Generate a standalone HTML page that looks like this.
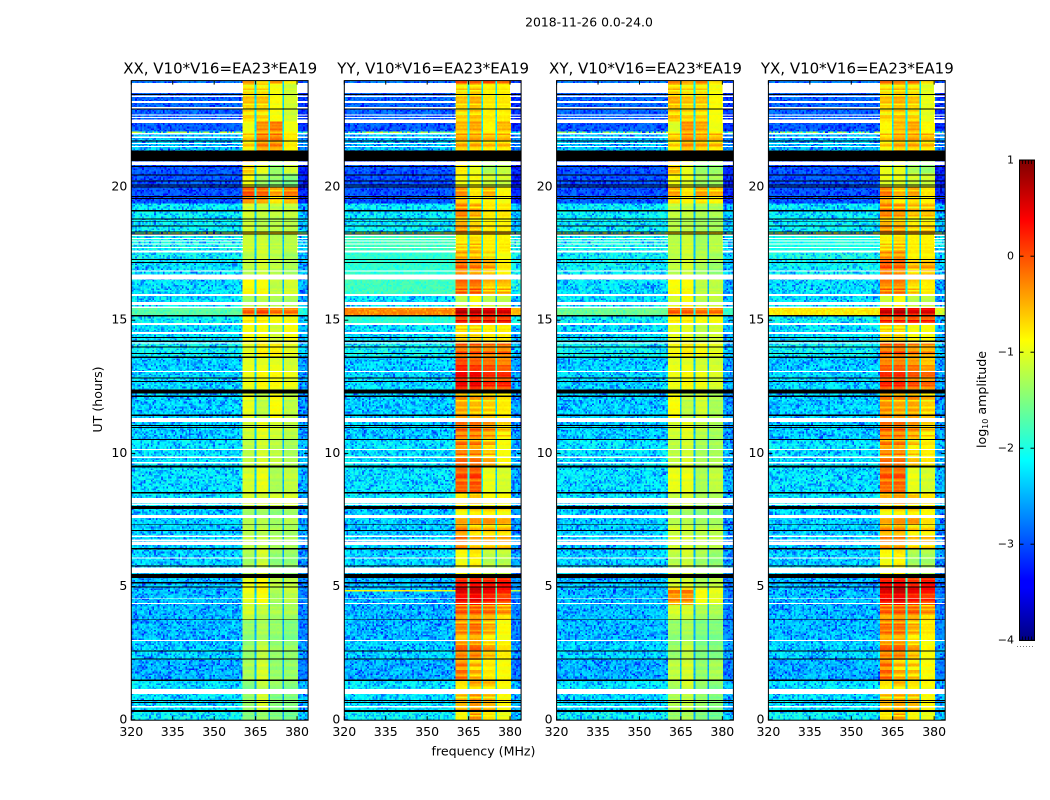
<!DOCTYPE html>
<html>
<head>
<meta charset="utf-8">
<title>2018-11-26 0.0-24.0</title>
<style>
html,body{margin:0;padding:0;background:#fff;}
#figure{position:relative;width:1050px;height:800px;overflow:hidden;background:#fff;}
.plot-wrap{position:absolute;overflow:hidden;}
.plot-wrap canvas{position:absolute;display:block;image-rendering:pixelated;}
#overlay{position:absolute;left:0;top:0;}
text{font-family:"DejaVu Sans","Liberation Sans",sans-serif;fill:#000;}
</style>
</head>
<body>
<div id="figure">
<svg id="overlay" width="1050" height="800" viewBox="0 0 1050 800" xmlns="http://www.w3.org/2000/svg">
  <defs>
    <linearGradient id="jetGrad" x1="0" y1="1" x2="0" y2="0">
      <stop offset="0" stop-color="#00007f"/>
      <stop offset="0.11" stop-color="#0000ff"/>
      <stop offset="0.125" stop-color="#0000ff"/>
      <stop offset="0.375" stop-color="#00ffff"/>
      <stop offset="0.625" stop-color="#ffff00"/>
      <stop offset="0.875" stop-color="#ff0000"/>
      <stop offset="1" stop-color="#7f0000"/>
    </linearGradient>
  </defs>
  <text x="589" y="26.5" text-anchor="middle" font-size="12.4">2018-11-26 0.0-24.0</text>
  <text x="483.5" y="755.5" text-anchor="middle" font-size="12.6">frequency (MHz)</text>
  <text transform="translate(102,399.5) rotate(-90)" text-anchor="middle" font-size="12.6">UT (hours)</text>
  <text transform="translate(986,399.5) rotate(-90)" text-anchor="middle" font-size="12.6">log<tspan font-size="8" dy="2">10</tspan><tspan dy="-2"> amplitude</tspan></text>
  <rect x="1019.5" y="160" width="15" height="480.5" fill="url(#jetGrad)"/>
  <rect x="1019.5" y="160" width="15" height="480.5" fill="none" stroke="#000" stroke-width="1"/>
  <line x1="1017" x2="1035" y1="646.5" y2="646.5" stroke="#777" stroke-width="1" stroke-dasharray="1 2"/>
</svg>
</div>
<script>
// ---------- Data ----------
const panelTitles = ["XX, V10*V16=EA23*EA19", "YY, V10*V16=EA23*EA19", "XY, V10*V16=EA23*EA19", "YX, V10*V16=EA23*EA19"];
const freqTicks = [320, 335, 350, 365, 380];
const hourTicks = [0, 5, 10, 15, 20];
const colorTicks = [1, 0, -1, -2, -3, -4];
const subBandEdges = [[360.4, 364.8], [365.4, 369.8], [370.4, 374.8], [375.4, 380]];
const subBandGaps = [365, 370, 375];

// upper time limit (hours) of every segment
const segmentUpper = [0.30,1.05,1.50,2.30,3.00,3.76,4.30,4.83,4.88,4.97,5.40,6.42,7.33,7.95,8.52,9.50,10.52,11.25,12.30,13.07,13.60,14.15,14.85,15.17,15.48,15.95,16.60,17.20,17.58,18.27,18.33,19.40,19.97,20.47,20.97,22.03,22.08,22.45,23.90,24.00];
// segments whose background carries strong hot pixels
const speckledSegments = [30, 36];

// log10 amplitude per segment: [background, band1, band2, band3, band4]
const levelsXX = [
[-2.2,-1.5,-1.4,-1.5,-1.6],[-2.3,-1.4,-1.1,-1.5,-1.5],[-2.3,-1.5,-1.2,-1.4,-1.5],[-2.55,-1.3,-1.1,-1.4,-1.4],[-2.4,-1.4,-1.2,-1.4,-1.4],
[-2.5,-1.4,-1.3,-1.4,-1.5],[-2.5,-1.1,-1.2,-1.3,-1.3],[-2.5,-1.0,-0.9,-1.3,-1.2],[-2.5,-1.0,-0.9,-1.3,-1.2],[-2.5,-1.0,-0.9,-1.3,-1.2],
[-2.5,-1.0,-0.9,-1.2,-1.2],[-2.4,-1.3,-1.1,-1.4,-1.4],[-2.4,-1.2,-1.2,-1.3,-1.3],[-2.4,-1.3,-1.3,-1.4,-1.3],[-2.3,-1.1,-1.1,-1.1,-1.1],
[-2.3,-1.1,-1.0,-1.3,-1.2],[-2.3,-1.2,-1.1,-1.2,-1.3],[-2.4,-1.1,-1.0,-1.1,-1.2],[-2.4,-1.0,-1.2,-0.9,-1.2],[-2.35,-1.0,-0.9,-0.9,-1.0],
[-2.4,-1.0,-1.0,-1.0,-1.1],[-2.2,-1.0,-0.8,-0.8,-1.0],[-2.3,-0.9,-0.9,-1.1,-0.9],[-2.2,-0.8,-0.8,-0.9,-0.9],[-1.7,-0.2,-0.1,-0.3,-0.3],
[-2.3,-1.3,-1.2,-1.3,-1.3],[-2.3,-0.9,-0.9,-1.2,-1.1],[-2.3,-1.2,-1.1,-1.2,-1.3],[-2.2,-1.2,-1.1,-1.2,-1.3],[-2.15,-1.1,-1.1,-1.2,-1.2],
[-1.7,-0.5,-0.5,-0.5,-0.5],[-2.25,-1.1,-1.2,-1.2,-1.2],[-3.0,-0.2,-0.3,-0.6,-0.4],[-3.0,-0.9,-1.3,-1.4,-1.5],[-3.0,-0.7,-1.0,-1.4,-1.1],
[-2.5,-0.7,-0.3,-0.3,-0.8],[-1.7,-0.7,-0.4,-0.4,-0.8],[-2.95,-1.0,-0.5,-0.4,-1.0],[-2.9,-0.7,-0.7,-0.9,-1.1],[-2.8,-0.6,-0.8,-0.6,-0.9]
];
const levelsYY = [
[-2.2,-0.9,-0.5,-0.8,-1.0],[-2.3,-0.7,-0.5,-0.7,-0.9],[-2.3,-0.8,-0.6,-0.7,-0.9],[-2.55,-0.3,-0.6,-0.8,-0.9],[-2.4,-0.3,-0.3,-0.6,-0.8],
[-2.5,-0.4,-0.3,-0.6,-0.9],[-2.5,-0.2,-0.2,-0.3,-0.5],[-2.5,0.4,0.45,0.3,0.1],[-0.9,0.4,0.45,0.3,0.1],[-2.5,0.4,0.45,0.3,0.1],
[-2.5,0.15,0.2,0.15,0.2],[-2.4,-0.9,-0.8,-1.2,-1.2],[-2.4,-0.3,-0.6,-0.6,-0.6],[-2.4,-0.7,-0.6,-0.6,-0.7],[-2.3,-0.8,-0.7,-0.9,-0.9],
[-2.3,-0.15,-0.1,-1.0,-1.1],[-2.3,-0.25,-0.3,-0.6,-0.9],[-2.4,-0.2,-0.2,-0.4,-0.7],[-2.4,-0.5,-0.6,-0.7,-0.8],[-2.35,0.25,0.25,0.0,0.0],
[-2.4,0.1,0.0,-0.1,-0.2],[-2.2,-0.1,-0.1,-0.2,-0.2],[-2.3,-0.7,-0.7,-0.8,-0.8],[-1.9,0.25,0.35,0.35,0.3],[-0.3,0.6,0.6,0.5,0.45],
[-2.3,-1.2,-0.9,-1.2,-1.2],[-1.8,-0.2,-0.2,-0.6,-0.6],[-1.9,-0.2,-0.3,-0.5,-0.8],[-1.9,-0.4,-0.5,-0.7,-0.9],[-1.8,-0.7,-0.6,-0.8,-0.8],
[-1.6,-0.2,-0.2,-0.3,-0.3],[-2.25,-0.4,-0.6,-0.8,-0.8],[-3.0,-0.5,-0.8,-0.7,-0.9],[-3.0,-0.9,-0.9,-1.1,-1.1],[-3.0,-0.8,-1.0,-1.3,-1.2],
[-2.5,-0.5,-0.5,-0.6,-0.6],[-1.7,-0.5,-0.5,-0.6,-0.6],[-2.95,-0.7,-0.6,-0.9,-0.7],[-2.9,-0.7,-0.6,-0.8,-0.8],[-2.8,-0.2,-0.3,-0.2,-0.4]
];
const levelsXY = [
[-2.2,-1.4,-1.3,-1.5,-1.6],[-2.3,-1.3,-1.2,-1.4,-1.5],[-2.3,-1.3,-1.1,-1.4,-1.5],[-2.55,-1.2,-1.1,-1.4,-1.3],[-2.4,-1.4,-1.2,-1.5,-1.5],
[-2.5,-1.4,-1.3,-1.5,-1.5],[-2.5,-1.1,-1.1,-1.3,-1.3],[-2.5,-0.3,-0.3,-0.9,-1.0],[-2.5,-0.3,-0.3,-0.9,-1.0],[-2.5,-0.8,-0.8,-1.1,-1.1],
[-2.5,-1.1,-1.1,-1.3,-1.2],[-2.4,-1.2,-1.1,-1.3,-1.4],[-2.4,-1.1,-1.1,-1.2,-1.2],[-2.4,-1.3,-1.3,-1.4,-1.4],[-2.3,-1.2,-1.1,-1.3,-1.3],
[-2.3,-1.0,-1.0,-1.3,-1.2],[-2.3,-1.2,-1.1,-1.3,-1.3],[-2.4,-1.1,-1.0,-1.2,-1.3],[-2.4,-0.9,-1.2,-1.1,-1.3],[-2.35,-1.0,-0.9,-1.0,-1.1],
[-2.4,-1.0,-1.0,-1.1,-1.1],[-2.2,-0.9,-0.8,-0.9,-1.0],[-2.3,-1.0,-1.0,-1.2,-1.1],[-2.2,-0.8,-0.8,-0.9,-0.9],[-1.6,-0.2,-0.2,-0.3,-0.3],
[-2.3,-1.1,-0.9,-1.2,-1.2],[-2.3,-0.9,-0.9,-1.2,-1.2],[-2.2,-1.2,-1.1,-1.3,-1.4],[-2.2,-1.2,-1.1,-1.2,-1.3],[-2.15,-1.2,-1.1,-1.3,-1.2],
[-1.7,-0.5,-0.5,-0.5,-0.5],[-2.25,-1.2,-1.2,-1.3,-1.3],[-3.0,-0.6,-0.8,-0.6,-0.7],[-3.0,-0.9,-1.0,-1.3,-1.3],[-3.0,-0.6,-1.0,-1.4,-1.4],
[-2.5,-0.7,-0.4,-0.5,-0.6],[-1.7,-0.7,-0.4,-0.5,-0.6],[-2.95,-1.1,-0.5,-0.6,-1.0],[-2.9,-0.6,-0.7,-0.7,-0.9],[-2.8,-0.5,-0.7,-0.5,-0.8]
];
const levelsYX = [
[-2.2,-0.8,-0.6,-0.9,-1.0],[-2.3,-0.7,-0.6,-0.7,-0.9],[-2.3,-0.8,-0.7,-0.8,-0.9],[-2.55,-0.25,-0.6,-0.7,-0.9],[-2.4,-0.3,-0.3,-0.6,-0.9],
[-2.5,-0.3,-0.3,-0.6,-0.8],[-2.5,-0.25,-0.2,-0.25,-0.5],[-2.5,0.4,0.5,0.3,0.15],[-2.5,0.4,0.5,0.3,0.15],[-2.5,0.4,0.5,0.3,0.15],
[-2.5,0.2,0.25,0.1,0.2],[-2.4,-0.9,-0.8,-1.3,-1.3],[-2.4,-0.4,-0.4,-0.7,-0.7],[-2.4,-0.7,-0.6,-0.6,-0.8],[-2.3,-0.6,-0.5,-0.7,-0.8],
[-2.3,-0.2,-0.2,-1.0,-1.1],[-2.3,-0.3,-0.3,-0.7,-0.8],[-2.4,-0.2,-0.2,-0.4,-0.7],[-2.4,-0.4,-0.5,-0.5,-0.7],[-2.35,0.0,0.0,-0.2,-0.3],
[-2.4,-0.2,-0.2,-0.3,-0.5],[-2.2,-0.15,-0.1,-0.3,-0.4],[-2.3,-0.7,-0.7,-0.9,-0.9],[-2.2,0.15,0.15,0.2,0.15],[-0.8,0.5,0.6,0.4,0.4],
[-2.3,-1.1,-0.9,-1.2,-1.2],[-2.3,-0.3,-0.3,-0.7,-0.8],[-2.2,-0.1,-0.2,-0.6,-0.5],[-2.1,-0.3,-0.3,-0.8,-0.8],[-2.0,-0.7,-0.6,-0.8,-0.8],
[-1.6,-0.2,-0.2,-0.3,-0.3],[-2.25,-0.4,-0.5,-0.7,-0.7],[-3.0,-0.4,-0.7,-0.6,-0.8],[-3.0,-1.0,-1.0,-1.1,-1.1],[-3.0,-1.0,-1.0,-1.3,-1.4],
[-2.5,-0.7,-0.5,-0.5,-0.6],[-1.7,-0.7,-0.5,-0.5,-0.6],[-2.95,-0.9,-0.7,-0.6,-0.9],[-2.9,-0.7,-0.6,-0.7,-1.0],[-2.8,-0.4,-0.5,-0.4,-0.8]
];
const panelLevels = [levelsXX, levelsYY, levelsXY, levelsYX];

// flagged time ranges, [from hour, to hour]
const whiteRowsOutOfBand = [[23.53,23.91],[23.38,23.43],[23.16,23.22],[22.95,23.01],[22.68,22.72],[22.60,22.63],[22.41,22.53],[21.98,22.03],[21.83,21.89],[21.62,21.66],[21.50,21.54],[18.17,18.21],[18.05,18.09],[17.96,17.99],[17.84,17.87],[17.71,17.75],[17.55,17.61]];
const whiteRows = [[20.82,20.95],[16.82,16.87],[16.52,16.71],[15.91,15.98],[15.57,15.69],[15.46,15.51],[14.82,14.89],[14.48,14.56],[14.12,14.17],[13.05,13.09],[11.18,11.33],[10.12,10.16],[9.82,9.88],[9.62,9.67],[8.13,8.32],[8.06,8.11],[7.57,7.68],[6.87,6.91],[6.72,6.76],[6.57,6.69],[6.05,6.09],[5.51,5.71],[4.53,4.56],[4.34,4.38],[2.95,2.99],[0.96,1.15],[0.46,0.51]];
const blackRows = [[23.46,23.50],[22.90,22.94],[21.71,21.75],[20.97,21.37],[20.76,20.79],[20.43,20.47],[20.20,20.24],[20.05,20.09],[19.99,20.02],[19.63,19.67],[19.55,19.59],[19.08,19.13],[18.78,18.82],[18.70,18.73],[18.51,18.55],[18.31,18.33],[18.22,18.26],[17.26,17.30],[17.14,17.19],[15.14,15.20],[14.33,14.37],[14.19,14.24],[13.97,14.01],[13.73,13.77],[13.59,13.63],[12.82,12.85],[12.68,12.72],[12.25,12.40],[12.12,12.17],[11.41,11.46],[11.03,11.06],[10.96,11.00],[10.50,10.54],[9.47,9.54],[8.50,8.56],[7.91,8.02],[7.31,7.34],[7.08,7.12],[6.40,6.44],[5.75,5.79],[5.32,5.47],[5.11,5.17],[4.96,5.00],[3.76,3.79],[2.57,2.61],[2.27,2.31],[1.45,1.52],[0.71,0.74],[0.63,0.67],[0.29,0.36]];

// hand-typed texture tables (log10 offsets)
const speckle = [-0.9,0.2,-0.3,0.5,-1.1,0.1,0.4,-0.5,0.3,-0.1,0.6,-0.7,0.2,0.4,-1.3,0.3,-0.2,0.5,0.1,-0.6,0.4,-0.4,0.2,0.6,-0.8,0.0,0.3,-0.2,0.5,-1.0,0.2,0.4,-0.3,0.1,0.6,-0.5,0.3,-0.9,0.4,0.0,0.5,-0.2,0.2,-1.2,0.3,0.6,-0.4,0.1,0.4,-0.7,0.2,0.5,-0.1,0.3,-0.6,0.6,0.0,-1.0,0.4,0.2,-0.3,0.5,0.1,-0.8,0.3,0.6,-0.2,0.4,-0.5,0.0,0.5,-1.1,0.2,0.3,-0.4,0.6,0.1,-0.7,0.4,-0.1,0.2,0.5,-0.9,0.3,0.0,0.6,-0.3,0.4,-0.6,0.1,0.5,-1.4,0.2,0.3,-0.2,0.4,-0.5];
const rowRipple = [0.5,-0.4,0.9,-0.7,0.2,0.8,-0.9,0.3,-0.2,0.7,-0.6,0.4,1.0,-0.8,0.1,-0.3,0.6,-1.0,0.5,0.2,-0.5,0.8,-0.1,-0.7,0.4,0.9,-0.4,0.0,-0.9,0.6,0.3];

// ---------- Scales ----------
const frameLeft = [131.3, 344.3, 556.6, 768.4];
const frameTop = 80.6;
const frameBottom = 720.2;
const frameWidth = 176.8;
const freqMin = 320, freqMax = 384;
const cellMHz = 0.625, cellHours = 0.0625;
function xScale(p, f) { return frameLeft[p] + (f - freqMin) * frameWidth / (freqMax - freqMin); }
function yScale(h) { return 719.8 - 26.64 * h; }
function cbScale(v) { return 640.2 - (v + 4) * 96; }

function jetColor(v) {
  const t = Math.min(1, Math.max(0, (v + 4) / 5));
  const c = x => Math.round(255 * Math.min(1, Math.max(0, x)));
  return "rgb(" + c(Math.min(4 * t - 1.5, -4 * t + 4.5)) + "," + c(Math.min(4 * t - 0.5, -4 * t + 3.5)) + "," + c(Math.min(4 * t + 0.5, -4 * t + 2.5)) + ")";
}

function segmentIndex(h) {
  for (let i = 0; i < segmentUpper.length; i++) if (h < segmentUpper[i]) return i;
  return segmentUpper.length - 1;
}

function textureIndex(p, row, col) {
  const mixed = ((col + 1) * 7919 ^ (row + 1) * 104729 ^ (p + 1) * 15485863) >>> 0;
  return (mixed ^ (mixed >>> 7)) % speckle.length;
}

function cellLevel(p, row, col) {
  const h = (row + 0.5) * cellHours;
  const f = freqMin + col * cellMHz;
  const seg = segmentIndex(h);
  const lv = panelLevels[p][seg];
  const n = speckle[textureIndex(p, row, col)];
  const rip = rowRipple[(row * row + row + seg) % rowRipple.length];
  for (let g = 0; g < subBandGaps.length; g++) {
    if (Math.abs(f - subBandGaps[g]) < 0.3) {
      const avg = (lv[g + 1] + lv[g + 2]) / 2;
      return 0.45 * avg - 1.9 + n * 0.1;
    }
  }
  for (let b = 0; b < subBandEdges.length; b++) {
    if (f >= subBandEdges[b][0] && f <= subBandEdges[b][1]) {
      const base = lv[b + 1];
      const amp = base > -0.8 ? 0.3 : 0.08;
      return base + rip * amp + n * 0.05;
    }
  }
  const bg = f > 380 ? lv[0] - 0.25 : lv[0];
  let noiseAmp = bg < -2.7 ? 0.4 : (bg < -2.0 ? 0.55 : 0.2);
  if (speckledSegments.indexOf(seg) >= 0) noiseAmp = 1.1;
  return bg + n * noiseAmp;
}

// ---------- Rendering ----------
const figure = document.getElementById("figure");
const svg = document.getElementById("overlay");
const NS = "http://www.w3.org/2000/svg";
function mk(tag, attrs) {
  const e = document.createElementNS(NS, tag);
  for (const k in attrs) e.setAttribute(k, attrs[k]);
  svg.appendChild(e);
  return e;
}

const nCols = Math.ceil((freqMax - freqMin) / cellMHz) + 1;
const nRows = Math.ceil(24 / cellHours);
const pxPerCol = frameWidth / (freqMax - freqMin) * cellMHz;

panelTitles.forEach(function (title, p) {
  const wrap = document.createElement("div");
  wrap.className = "plot-wrap";
  
  
  wrap.style.left = frameLeft[p] + "px";
  wrap.style.top = frameTop + "px";
  wrap.style.width = frameWidth + "px";
  wrap.style.height = (frameBottom - frameTop) + "px";
  const cv = document.createElement("canvas");
  
  
  cv.width = nCols;
  cv.height = nRows;
  cv.style.left = (-pxPerCol / 2) + "px";
  cv.style.width = (nCols * pxPerCol) + "px";
  const totalH = yScale(0) - yScale(24);
  cv.style.top = (yScale(24) - frameTop) + "px";
  cv.style.height = totalH + "px";
  const ctx = cv.getContext("2d");
  for (let r = 0; r < nRows; r++) {
    for (let c = 0; c < nCols; c++) {
      ctx.fillStyle = jetColor(cellLevel(p, r, c));
      ctx.fillRect(c, nRows - 1 - r, 1, 1);
    }
  }
  wrap.appendChild(cv);
  figure.insertBefore(wrap, svg);

  const x0 = frameLeft[p], x1 = x0 + frameWidth;
  const bandX0 = xScale(p, subBandEdges[0][0]);
  const bandX1 = xScale(p, subBandEdges[3][1]);

  whiteRowsOutOfBand.forEach(function (rng) {
    const y = yScale(rng[1]);
    const hgt = Math.max(0.9, yScale(rng[0]) - y);
    const a = mk("rect", { x: x0, width: bandX0 - x0, y: y, height: hgt, fill: "#fff", "shape-rendering": "crispEdges" });
    
    
    const b = mk("rect", { x: bandX1, width: x1 - bandX1, y: y, height: hgt, fill: "#fff", "shape-rendering": "crispEdges" });
    
    
  });
  whiteRows.forEach(function (rng) {
    const e = mk("rect", { x: x0, width: frameWidth, y: yScale(rng[1]), height: Math.max(0.9, yScale(rng[0]) - yScale(rng[1])), fill: "#fff", "shape-rendering": "crispEdges" });
    
    
  });
  blackRows.forEach(function (rng) {
    const e = mk("rect", { x: x0, width: frameWidth, y: yScale(rng[1]), height: Math.max(0.9, yScale(rng[0]) - yScale(rng[1])), fill: "#000", "shape-rendering": "crispEdges" });
    
    
  });

  const frame = mk("rect", { x: x0, y: frameTop, width: frameWidth, height: frameBottom - frameTop, fill: "none", stroke: "#000", "stroke-width": 1 });
  
  

  const ttl = mk("text", { x: x0 + frameWidth / 2 + 0.5, y: 73.5, "text-anchor": "middle", "font-size": 15 });
  ttl.textContent = title;
  
  

  freqTicks.forEach(function (f) {
    const x = xScale(p, f);
    const a = mk("line", { x1: x, x2: x, y1: frameBottom, y2: frameBottom - 4, stroke: "#000", "stroke-width": 1 });
    
    
    const b = mk("line", { x1: x, x2: x, y1: frameTop, y2: frameTop + 4, stroke: "#000", "stroke-width": 1 });
    
    
    const t = mk("text", { x: x, y: 736, "text-anchor": "middle", "font-size": 12.5 });
    t.textContent = String(f);
    
    
  });
  hourTicks.forEach(function (h) {
    const y = yScale(h);
    const a = mk("line", { x1: x0, x2: x0 + 4, y1: y, y2: y, stroke: "#000", "stroke-width": 1 });
    
    
    const b = mk("line", { x1: x1, x2: x1 - 4, y1: y, y2: y, stroke: "#000", "stroke-width": 1 });
    
    
    const t = mk("text", { x: x0 - 4, y: y + 3.5, "text-anchor": "end", "font-size": 12.5 });
    t.textContent = String(h);
    
    
  });
});

colorTicks.forEach(function (v) {
  const y = cbScale(v);
  const a = mk("line", { x1: 1019.5, x2: 1023.5, y1: y, y2: y, stroke: "#000", "stroke-width": 1 });
  
  
  const b = mk("line", { x1: 1034.5, x2: 1030.5, y1: y, y2: y, stroke: "#000", "stroke-width": 1 });
  
  
  const t = mk("text", { x: 1014, y: y + 3.5, "text-anchor": "end", "font-size": 11 });
  t.textContent = String(v).replace("-", "\u2212");
  
  
});
[1022, 1025, 1028, 1031].forEach(function (x) {
  const a = mk("line", { x1: x + 0.5, x2: x + 0.5, y1: 160, y2: 164, stroke: "#000", "stroke-width": 0.8 });
  
  
  const b = mk("line", { x1: x + 0.5, x2: x + 0.5, y1: 640.5, y2: 636.5, stroke: "#000", "stroke-width": 0.8 });
  
  
});
</script>
</body>
</html>
